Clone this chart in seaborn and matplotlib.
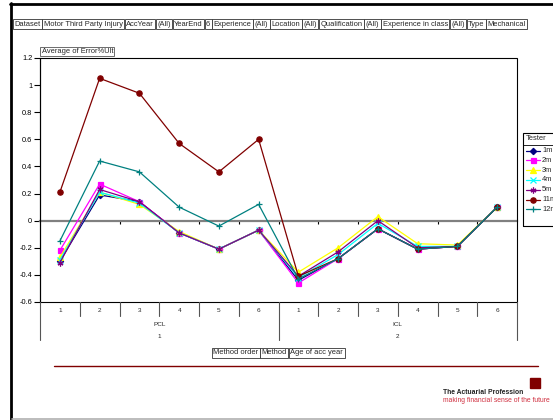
import numpy as np
import pandas as pd
import seaborn as sns
import matplotlib
matplotlib.use("Agg")
import matplotlib.pyplot as plt
import matplotlib.transforms as mtransforms
from matplotlib.lines import Line2D
from matplotlib.patches import Rectangle

# ---- data -------------------------------------------------------------
method_order = [1] * 6 + [2] * 6
methods = ["PCL"] * 6 + ["ICL"] * 6
ages = [1, 2, 3, 4, 5, 6] * 2
testers = ["1m", "2m", "3m", "4m", "5m", "11m", "12m"]

err_1m = [-0.30, 0.19, 0.14, -0.09, -0.21, -0.07, -0.44, -0.28, -0.06, -0.21, -0.19, 0.10]
err_2m = [-0.22, 0.27, 0.14, -0.09, -0.21, -0.07, -0.46, -0.28, -0.06, -0.21, -0.19, 0.10]
err_3m = [-0.27, 0.21, 0.12, -0.08, -0.21, -0.07, -0.38, -0.20, 0.03, -0.17, -0.18, 0.10]
err_4m = [-0.29, 0.21, 0.13, -0.09, -0.21, -0.07, -0.42, -0.25, -0.02, -0.19, -0.19, 0.10]
err_5m = [-0.31, 0.23, 0.14, -0.09, -0.21, -0.07, -0.41, -0.23, 0.00, -0.20, -0.19, 0.10]
err_11m = [0.21, 1.05, 0.94, 0.57, 0.36, 0.60, -0.41, -0.28, -0.06, -0.21, -0.19, 0.10]
err_12m = [-0.15, 0.44, 0.36, 0.10, -0.04, 0.12, -0.43, -0.28, -0.06, -0.21, -0.19, 0.10]

filters = ["Dataset", "Motor Third Party Injury", "AccYear", "(All)", "YearEnd", "6",
           "Experience", "(All)", "Location", "(All)", "Qualification", "(All)",
           "Experience in class", "(All)", "Type", "Mechanical"]
row_fields = ["Method order", "Method", "Age of acc year"]

series = dict(zip(testers, [err_1m, err_2m, err_3m, err_4m, err_5m, err_11m, err_12m]))
colors = {"1m": "#000080", "2m": "#FF00FF", "3m": "#FFFF00", "4m": "#00FFFF",
          "5m": "#800080", "11m": "#800000", "12m": "#008080"}
markers = {"1m": "D", "2m": "s", "3m": "^", "4m": "x", "5m": (6, 2, 0),
           "11m": "o", "12m": "+"}
msizes = {"1m": 3.2, "2m": 3.6, "3m": 3.8, "4m": 3.8, "5m": 4.2, "11m": 3.8, "12m": 4.4}

rows = []
for t in testers:
    for i, v in enumerate(series[t]):
        rows.append({"Tester": t, "pos": i, "Method": methods[i], "Age": ages[i], "err": v})
df = pd.DataFrame(rows)

# ---- figure -----------------------------------------------------------
sns.set_theme(style="white")
plt.rcParams["font.family"] = ["Liberation Sans", "DejaVu Sans"]

W, H = 553, 420
fig = plt.figure(figsize=(W / 100, H / 100), dpi=100, facecolor="white")


def fx(px):
    return px / W


def fy(py):
    return 1 - py / H


ax = fig.add_axes([fx(40), fy(302), fx(517) - fx(40), fy(58) - fy(302)])
ax.set_facecolor("white")

for z, t in enumerate(testers):
    sub = df[df["Tester"] == t]
    sns.lineplot(data=sub, x="pos", y="err", ax=ax, color=colors[t], lw=0.9,
                 marker=markers[t], markersize=msizes[t], markeredgecolor=colors[t],
                 markerfacecolor=colors[t], markeredgewidth=0.9, errorbar=None,
                 legend=False, zorder=3 + z)

ax.set_xlim(-0.5, len(ages) - 0.5)
ax.set_ylim(-0.6, 1.2)
yt = np.round(np.arange(-0.6, 1.21, 0.2), 1)
ax.set_yticks(yt)
ax.set_yticklabels([f"{v:g}" for v in yt])
ax.set_xlabel("")
ax.set_ylabel("")

# category axis crosses at zero
ax.spines["bottom"].set_position(("data", 0))
ax.spines["bottom"].set_color("#808080")
ax.spines["bottom"].set_linewidth(1.6)
ax.spines["bottom"].set_zorder(2)
ax.spines["top"].set_visible(False)
ax.spines["right"].set_visible(False)
ax.spines["left"].set_color("black")
ax.spines["left"].set_linewidth(0.8)
ax.set_xticks(np.arange(0.5, len(ages) - 1, 1.0))
ax.tick_params(axis="x", direction="out", length=2.5, width=0.8, color="black",
               labelbottom=False, bottom=True)
ax.tick_params(axis="y", direction="out", length=4, width=0.8, color="black",
               labelsize=5.3, pad=1.5, left=True, labelcolor="black")
ax.add_patch(Rectangle((0, 0), 1, 1, transform=ax.transAxes, fill=False,
                       ec="black", lw=0.8, clip_on=False, zorder=10))

# category table under the plot
bt = mtransforms.blended_transform_factory(ax.transData, fig.transFigure)
for b in np.arange(0.5, len(ages) - 1, 1.0):
    if b == 5.5:
        continue
    fig.add_artist(Line2D([b, b], [fy(302), fy(316)], transform=bt, color="#555555", lw=0.8))
for b in [-0.5, 5.5, len(ages) - 0.5]:
    fig.add_artist(Line2D([b, b], [fy(302), fy(340)], transform=bt, color="#555555", lw=0.8))
for i, a in enumerate(ages):
    fig.text(i, fy(311), str(a), transform=bt, ha="center", va="center", fontsize=4.6)
for grp, name in zip([1, 2], ["PCL", "ICL"]):
    idx = [i for i, o in enumerate(method_order) if o == grp]
    c = (idx[0] + idx[-1]) / 2
    fig.text(c, fy(324), name, transform=bt, ha="center", va="center", fontsize=4.6)
    fig.text(c, fy(337), str(grp), transform=bt, ha="center", va="center", fontsize=4.6)

# field buttons
renderer = fig.canvas.get_renderer()
box_kw = dict(boxstyle="square,pad=0.18", fc="white", ec="#333333", lw=0.6)


def button_row(labels, x0, py, size):
    x = x0
    pad_px = 0.18 * size * 100 / 72
    for s in labels:
        t = fig.text(fx(x + pad_px), fy(py), s, fontsize=size, ha="left", va="center",
                     bbox=box_kw)
        bb = t.get_window_extent(renderer)
        x = bb.x1 + pad_px + 0.6


button_row(filters, 13, 24, 5.45)
button_row(row_fields, 212, 353, 5.45)
fig.text(fx(41.5), fy(51.5), "Average of Error%Ult", fontsize=5.45, ha="left", va="center",
         bbox=dict(boxstyle="square,pad=0.18", fc="white", ec="#555555", lw=0.6))

# legend
fig.add_artist(Rectangle((fx(523), fy(226)), fx(600) - fx(523), fy(133) - fy(226),
                         transform=fig.transFigure, fill=False, ec="black", lw=0.8))
fig.add_artist(Line2D([fx(523), fx(560)], [fy(145), fy(145)], color="black", lw=0.6))
fig.text(fx(525.5), fy(139), "Tester", fontsize=5.45, ha="left", va="center")
for k, t in enumerate(testers):
    yy = fy(150.5 + k * 9.8)
    fig.add_artist(Line2D([fx(526), fx(540)], [yy, yy], color=colors[t], lw=0.9))
    fig.add_artist(Line2D([fx(533)], [yy], color=colors[t], marker=markers[t],
                          markersize=msizes[t], markeredgecolor=colors[t],
                          markerfacecolor=colors[t], markeredgewidth=0.9, lw=0))
    fig.text(fx(542), yy, t, fontsize=5.45, ha="left", va="center")

# page decoration
fig.add_artist(Line2D([fx(54), fx(538)], [fy(366), fy(366)], color="#800000", lw=1.0))
fig.add_artist(Rectangle((fx(530), fy(388)), fx(540) - fx(530), fy(378) - fy(388),
                         transform=fig.transFigure, color="#800000"))
fig.text(fx(443), fy(392.5), "The Actuarial Profession", fontsize=4.9, fontweight="bold",
         ha="left", va="center", color="#222222")
fig.text(fx(443), fy(401), "making financial sense of the future", fontsize=4.9,
         ha="left", va="center", color="#d03040")
fig.add_artist(Line2D([fx(11), fx(11)], [fy(2.5), 0], color="black", lw=2.0))
fig.add_artist(Line2D([fx(10), 1], [fy(4), fy(4)], color="black", lw=2.0))
fig.add_artist(Line2D([fx(12), 1], [fy(419), fy(419)], color="#b0b0b0", lw=1.2))

fig.savefig("out.png", dpi=100, facecolor="white")
